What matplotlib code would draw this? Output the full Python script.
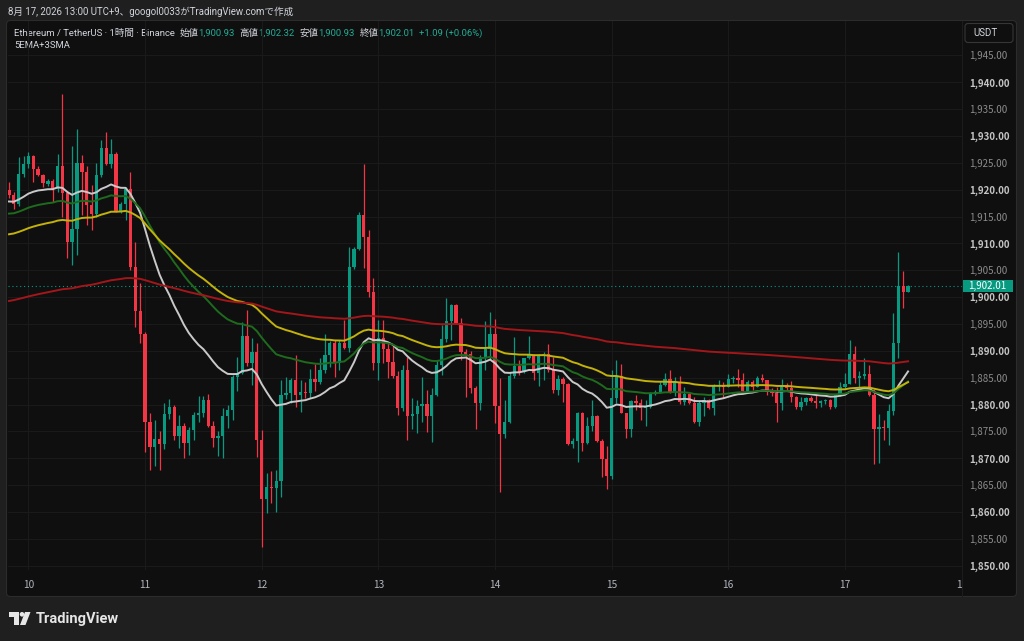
import matplotlib.pyplot as plt
import matplotlib.patches as patches
from matplotlib.transforms import Bbox, TransformedBbox, blended_transform_factory

plt.rcParams['font.family'] = ['Noto Sans CJK JP', 'DejaVu Sans']
HEAD_FONT = ['Roboto', 'Noto Sans CJK JP', 'DejaVu Sans']

# ETH/USDT 1h, 9日20:00 から 17日13:00 まで (チャートから読み取り)
opens = [1919.9, 1919.0, 1917.3, 1923.0, 1924.8, 1926.3, 1923.8, 1922.8, 1921.0, 1921.6,
         1920.2, 1924.4, 1919.3, 1910.3, 1912.6, 1924.9, 1923.2, 1917.1, 1915.4, 1922.8,
         1927.8, 1924.8, 1926.6, 1916.0, 1917.4, 1920.1, 1905.6, 1897.4, 1893.2, 1876.8,
         1872.1, 1873.6, 1872.6, 1878.3, 1879.5, 1874.2, 1876.0, 1872.9, 1875.2, 1878.0,
         1878.5, 1880.8, 1876.0, 1873.8, 1874.2, 1877.9, 1879.0, 1885.2, 1885.9, 1892.8,
         1887.8, 1889.8, 1873.4, 1862.5, 1864.7, 1864.5, 1865.8, 1881.8, 1882.1, 1884.5,
         1881.8, 1882.4, 1882.1, 1884.7, 1884.2, 1886.4, 1889.2, 1891.5, 1887.7, 1891.5,
         1890.6, 1905.6, 1908.9, 1915.3, 1911.1, 1901.0, 1887.7, 1892.4, 1890.4, 1888.0,
         1885.3, 1879.3, 1886.4, 1877.8, 1878.3, 1879.7, 1880.1, 1877.8, 1881.8, 1887.3,
         1892.2, 1895.6, 1898.5, 1895.2, 1889.8, 1889.5, 1883.0, 1880.2, 1888.9, 1890.3,
         1893.2, 1879.7, 1874.6, 1876.8, 1885.3, 1887.2, 1886.1, 1888.6, 1889.3, 1885.9,
         1889.2, 1889.4, 1886.4, 1882.7, 1884.7, 1883.9, 1872.6, 1873.2, 1878.5, 1872.9,
         1876.0, 1877.9, 1873.2, 1869.8, 1866.7, 1881.3, 1885.3, 1878.5, 1875.5, 1880.6,
         1880.2, 1879.3, 1879.5, 1882.1, 1882.3, 1883.7, 1884.7, 1882.4, 1884.2, 1880.4,
         1881.9, 1880.2, 1876.8, 1880.2, 1880.9, 1879.3, 1883.5, 1883.6, 1883.3, 1884.7,
         1884.9, 1884.5, 1882.6, 1884.2, 1883.3, 1885.0, 1884.5, 1882.4, 1882.1, 1880.3,
         1883.5, 1883.0, 1881.4, 1879.6, 1880.5, 1881.3, 1880.7, 1880.2, 1880.6, 1880.8,
         1879.6, 1881.8, 1883.3, 1883.9, 1889.4, 1885.0, 1885.4, 1885.7, 1881.8, 1875.4,
         1875.9, 1875.6, 1878.8, 1891.4, 1902.0, 1900.93]
highs = [1921.4, 1919.6, 1926.1, 1926.3, 1927.1, 1926.5, 1924.4, 1923.0, 1921.9, 1921.9,
         1926.6, 1937.9, 1919.8, 1928.1, 1931.3, 1926.5, 1924.5, 1920.9, 1924.9, 1929.2,
         1930.7, 1929.4, 1927.0, 1917.7, 1920.5, 1923.2, 1910.3, 1902.7, 1893.5, 1878.5,
         1877.2, 1875.0, 1880.2, 1881.1, 1879.9, 1878.0, 1876.5, 1875.8, 1878.6, 1881.6,
         1881.6, 1881.9, 1876.9, 1875.0, 1879.3, 1880.0, 1885.5, 1888.9, 1895.4, 1897.6,
         1892.4, 1891.4, 1875.2, 1867.2, 1867.7, 1867.9, 1884.5, 1885.2, 1884.9, 1889.2,
         1884.5, 1884.2, 1886.6, 1887.5, 1888.7, 1893.2, 1891.9, 1892.0, 1892.0, 1895.8,
         1909.4, 1909.4, 1915.9, 1924.8, 1912.5, 1903.5, 1895.7, 1895.7, 1891.6, 1891.1,
         1886.2, 1887.3, 1888.9, 1881.3, 1880.8, 1885.2, 1882.7, 1883.0, 1888.3, 1894.8,
         1899.8, 1898.7, 1898.7, 1896.2, 1890.4, 1890.0, 1883.4, 1889.2, 1895.6, 1897.3,
         1896.0, 1884.9, 1880.8, 1886.1, 1892.6, 1888.2, 1888.6, 1892.7, 1889.5, 1889.5,
         1889.8, 1891.2, 1888.9, 1885.5, 1885.2, 1884.0, 1873.7, 1878.6, 1878.6, 1877.7,
         1880.9, 1878.0, 1873.5, 1872.2, 1886.4, 1888.3, 1887.5, 1878.5, 1880.8, 1881.8,
         1881.1, 1880.9, 1882.4, 1882.7, 1884.2, 1885.8, 1886.4, 1885.2, 1885.3, 1883.3,
         1882.1, 1881.4, 1880.8, 1881.4, 1881.0, 1883.8, 1884.6, 1884.2, 1885.6, 1885.3,
         1886.6, 1885.8, 1884.6, 1884.5, 1885.3, 1885.6, 1884.6, 1883.0, 1883.2, 1884.7,
         1884.1, 1884.3, 1881.6, 1881.4, 1881.4, 1881.6, 1882.1, 1880.9, 1881.0, 1881.0,
         1881.8, 1884.2, 1885.9, 1892.1, 1890.9, 1886.3, 1888.6, 1887.3, 1882.9, 1878.2,
         1877.2, 1880.1, 1897.1, 1908.4, 1904.8, 1902.32]
lows = [1918.4, 1916.4, 1917.0, 1922.4, 1924.0, 1921.4, 1922.6, 1920.5, 1920.7, 1917.7,
        1919.6, 1915.0, 1907.3, 1906.0, 1907.8, 1915.3, 1913.4, 1912.5, 1915.0, 1922.4,
        1924.6, 1924.1, 1915.8, 1915.7, 1914.3, 1905.0, 1894.5, 1891.4, 1871.2, 1867.8,
        1868.6, 1867.8, 1871.8, 1877.4, 1873.4, 1872.0, 1870.0, 1870.7, 1873.4, 1876.8,
        1877.7, 1875.8, 1872.1, 1870.5, 1870.1, 1875.7, 1877.2, 1882.6, 1885.7, 1887.2,
        1883.6, 1870.3, 1853.5, 1859.8, 1861.6, 1860.0, 1862.8, 1881.0, 1880.2, 1879.6,
        1878.6, 1881.3, 1881.2, 1882.6, 1883.9, 1885.8, 1886.9, 1885.2, 1886.4, 1890.4,
        1889.8, 1905.2, 1908.8, 1905.5, 1900.1, 1886.4, 1884.5, 1887.7, 1885.0, 1885.0,
        1878.0, 1878.8, 1873.4, 1875.5, 1874.7, 1876.8, 1874.9, 1873.1, 1881.6, 1885.5,
        1891.7, 1892.0, 1895.1, 1888.3, 1881.4, 1882.1, 1875.4, 1879.0, 1886.5, 1888.4,
        1876.5, 1863.7, 1873.7, 1876.5, 1885.0, 1885.5, 1885.8, 1888.4, 1884.5, 1883.4,
        1884.5, 1886.1, 1882.2, 1881.8, 1880.5, 1872.4, 1872.0, 1869.3, 1871.3, 1872.7,
        1875.0, 1873.0, 1866.5, 1864.2, 1866.2, 1880.2, 1878.4, 1873.7, 1873.9, 1879.0,
        1877.2, 1876.0, 1879.3, 1881.7, 1882.1, 1883.5, 1882.2, 1881.6, 1880.1, 1879.9,
        1880.1, 1876.6, 1876.0, 1877.8, 1879.1, 1878.1, 1882.5, 1881.3, 1883.2, 1884.0,
        1883.2, 1882.5, 1882.4, 1882.8, 1883.2, 1884.2, 1881.8, 1881.6, 1876.8, 1879.0,
        1882.7, 1880.5, 1879.1, 1879.0, 1880.0, 1880.4, 1879.3, 1879.6, 1880.1, 1879.1,
        1879.4, 1881.6, 1883.1, 1883.8, 1884.1, 1883.3, 1884.7, 1881.6, 1869.0, 1869.1,
        1873.4, 1872.4, 1878.0, 1888.6, 1897.9, 1900.93]
closes = [1919.0, 1917.3, 1923.0, 1924.8, 1926.3, 1923.8, 1922.8, 1921.2, 1921.6, 1920.2,
          1924.4, 1919.3, 1910.3, 1912.6, 1924.9, 1923.2, 1917.1, 1915.4, 1922.8, 1927.8,
          1924.8, 1926.6, 1916.0, 1917.4, 1920.2, 1905.6, 1897.4, 1893.2, 1876.8, 1872.1,
          1873.6, 1872.6, 1878.3, 1879.5, 1874.2, 1876.0, 1872.9, 1875.2, 1878.0, 1878.5,
          1880.8, 1876.0, 1873.8, 1874.2, 1877.9, 1879.0, 1885.2, 1885.9, 1892.8, 1887.8,
          1889.8, 1873.4, 1862.5, 1864.7, 1864.5, 1865.8, 1881.8, 1882.1, 1884.5, 1881.8,
          1882.4, 1882.1, 1884.7, 1884.2, 1886.4, 1889.2, 1891.5, 1887.7, 1891.5, 1890.6,
          1905.6, 1908.9, 1915.3, 1911.1, 1901.0, 1887.7, 1892.4, 1890.4, 1888.0, 1885.3,
          1879.3, 1886.4, 1877.8, 1878.3, 1879.7, 1880.1, 1877.8, 1881.8, 1887.3, 1892.2,
          1895.6, 1898.5, 1895.2, 1889.8, 1889.5, 1883.0, 1880.2, 1888.9, 1890.3, 1893.2,
          1879.7, 1874.6, 1876.8, 1885.3, 1887.2, 1886.1, 1888.6, 1889.3, 1885.9, 1889.2,
          1889.4, 1886.4, 1882.7, 1884.7, 1883.9, 1872.6, 1873.2, 1878.5, 1872.9, 1876.0,
          1877.9, 1873.2, 1869.8, 1866.7, 1881.3, 1885.3, 1878.5, 1875.5, 1880.6, 1880.2,
          1879.3, 1879.5, 1882.1, 1882.3, 1883.7, 1884.7, 1882.4, 1884.2, 1880.4, 1881.9,
          1880.2, 1876.8, 1880.2, 1880.9, 1879.3, 1883.5, 1883.6, 1883.3, 1884.7, 1884.9,
          1884.5, 1882.6, 1884.2, 1883.3, 1885.0, 1884.5, 1882.4, 1882.1, 1880.3, 1883.5,
          1883.0, 1881.4, 1879.6, 1880.5, 1881.3, 1880.7, 1880.2, 1880.6, 1880.8, 1879.6,
          1881.8, 1883.3, 1883.9, 1889.4, 1885.0, 1885.4, 1885.7, 1881.8, 1875.4, 1875.8,
          1875.6, 1878.8, 1891.4, 1902.0, 1900.93, 1902.01]

# 移動平均 (期間, 左端の値, 色)
ma_periods = [25, 50, 75, 220]
ma_starts = [1917.7, 1915.4, 1911.5, 1899.1]
ma_colors = ['#c9c9c9', '#1e6b1e', '#c2b20a', '#a3161a']

day_ticks = [4, 28, 52, 76, 100, 124, 148, 172, 196]
day_labels = ['10', '11', '12', '13', '14', '15', '16', '17', '18']
price_ticks = list(range(1850, 1950, 5))

UP = '#089981'
DOWN = '#f23645'


def ema(vals, period, start):
    a = 2.0 / (period + 1)
    out = []
    v = start
    for c in vals:
        v = v + a * (c - v)
        out.append(v)
    return out


fig = plt.figure(figsize=(10.24, 6.41), dpi=100, facecolor='#1f1f1f')

# 背景 (ピクセル座標)
bg = fig.add_axes([0, 0, 1, 1])
bg.set_xlim(0, 1024)
bg.set_ylim(641, 0)
bg.axis('off')
bg.add_patch(patches.FancyBboxPatch((6.5, 20.5), 1010, 576, boxstyle='round,pad=0,rounding_size=4',
                                    fc='#0f0f0f', ec='#2c2c2c', lw=0.8))
bg.plot([962, 962], [21, 596], color='#1c1c1c', lw=0.8)
bg.add_patch(patches.FancyBboxPatch((965, 23.5), 48, 19, boxstyle='round,pad=0,rounding_size=3',
                                    fc='#0f0f0f', ec='#363636', lw=0.8))
bg.text(973, 33.5, 'USDT', color='#d1d4dc', fontsize=7, va='center', family=HEAD_FONT)

bg.text(8, 12, '8月 17, 2026 13:00 UTC+9、googol0033がTradingView.comで作成',
        color='#d1d4dc', fontsize=6.9, va='center', family=HEAD_FONT)
bg.text(14, 33, 'Ethereum / TetherUS · 1時間 · Binance', color='#d1d4dc', fontsize=6.8,
        va='center', family=HEAD_FONT)
ohlc_x = [(180, 198, '始値', '1,900.93'), (239, 258, '高値', '1,902.32'),
          (300, 318, '安値', '1,900.93'), (360, 378, '終値', '1,902.01')]
for lx, vx, lab, val in ohlc_x:
    bg.text(lx, 33, lab, color='#d1d4dc', fontsize=6.8, va='center', family=HEAD_FONT)
    bg.text(vx, 33, val, color='#22ab94', fontsize=6.8, va='center', family=HEAD_FONT)
bg.text(419, 33, '+1.09 (+0.06%)', color='#22ab94', fontsize=6.8, va='center', family=HEAD_FONT)
bg.text(14, 45.5, '5EMA+3SMA', color='#d1d4dc', fontsize=6.8, va='center', family=HEAD_FONT)

# TradingView ロゴ
logo_c = '#e6e6e6'
bg.add_patch(patches.Rectangle((9, 612), 9.5, 4.5, fc=logo_c, ec='none'))
bg.add_patch(patches.Rectangle((13.5, 612), 5, 13, fc=logo_c, ec='none'))
bg.add_patch(patches.Circle((22, 614.3), 2.3, fc=logo_c, ec='none'))
bg.add_patch(patches.Polygon([(25, 612), (30.5, 612), (25.5, 625), (20, 625)], fc=logo_c, ec='none'))
bg.text(36, 618.5, 'TradingView', color=logo_c, fontsize=10.5, fontweight='bold', va='center',
        family=['Roboto', 'DejaVu Sans'])

# メインチャート
ax = fig.add_axes([8 / 1024, 71 / 641, 954 / 1024, 549 / 641])
ax.set_facecolor('none')
ax.set_xlim(-0.2, 196.1)
ax.set_ylim(1849.2, 1951.4)
for s in ax.spines.values():
    s.set_visible(False)

idx = list(range(len(closes)))
cols = [UP if c >= o else DOWN for o, c in zip(opens, closes)]
ax.vlines(idx, lows, highs, colors=cols, lw=0.9, zorder=2)
bottoms = [min(o, c) for o, c in zip(opens, closes)]
heights = [max(abs(c - o), 0.2) for o, c in zip(opens, closes)]
ax.bar(idx, heights, bottom=bottoms, width=0.68, color=cols, lw=0, zorder=2)

for p, st, col in zip(ma_periods, ma_starts, ma_colors):
    ax.plot(idx, ema(closes, p, st), color=col, lw=1.4, zorder=3)

last = closes[-1]
ax.axhline(last, color=UP, ls=(0, (1, 2.5)), lw=0.8, zorder=1)
tr = blended_transform_factory(ax.transAxes, ax.transData)
ax.add_patch(patches.Rectangle((1.0007, last - 1.12), 50 / 954, 2.24, transform=tr,
                               fc=UP, ec='none', clip_on=False, zorder=5))
ax.text(1.0007 + 25 / 954, last, f'{last:,.2f}', transform=tr, color='white', fontsize=7,
        ha='center', va='center', clip_on=False, zorder=6)

ax.set_xticks(day_ticks)
ax.set_xticklabels(day_labels)
ax.set_yticks(price_ticks)
ax.set_yticklabels([f'{v:,.2f}' for v in price_ticks])
ax.yaxis.tick_right()
ax.tick_params(axis='y', length=0, pad=5, labelsize=7, labelcolor='#8c8c8c')
ax.tick_params(axis='x', length=0, pad=7.5, labelsize=7.3, labelcolor='#b2b5be')
for v, lab in zip(price_ticks, ax.get_yticklabels()):
    if v % 10 == 0:
        lab.set_fontweight('bold')
        lab.set_color('#c4c4c4')
ax.grid(True, color='#1a1a1a', lw=0.8)
ax.set_axisbelow(True)

# 右端の日付ラベルは価格軸で切れている
xl = ax.get_xticklabels()[-1]
xl.set_clip_box(TransformedBbox(Bbox([[0, 0], [9.62, 6.41]]), fig.dpi_scale_trans))
xl.set_clip_on(True)

plt.savefig('out.png', dpi=100, facecolor=fig.get_facecolor())
